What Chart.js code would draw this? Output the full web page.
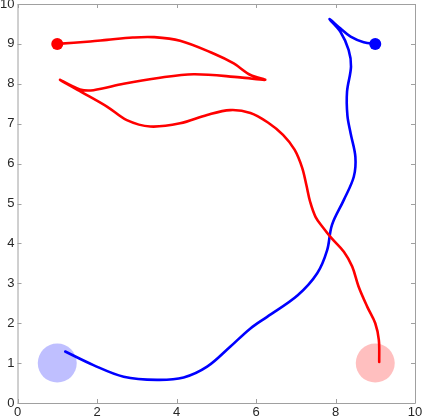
<!DOCTYPE html>
<html>
<head>
<meta charset="utf-8">
<script src="https://cdn.jsdelivr.net/npm/chart.js@4/dist/chart.umd.min.js"></script>
<style>
html,body{margin:0;padding:0;background:#fff;}
#wrap{width:423px;height:419px;position:relative;}
</style>
</head>
<body>
<div id="wrap"><canvas id="c" width="423" height="419"></canvas></div>
<script>
// Red trajectory
const redX = [1.0,1.83,2.25,2.9,3.42,4.09,4.93,5.44,5.86,6.23,5.6,4.43,3.5,2.67,1.91,1.57,1.07,1.6,2.25,2.75,3.34,4.09,4.77,5.35,5.86,6.3,6.68,6.97,7.16,7.27,7.36,7.5,7.7,7.9,8.21,8.42,8.58,8.8,9.0,9.09,9.1];
const redY = [9.0,9.06,9.1,9.16,9.17,9.08,8.76,8.51,8.22,8.1,8.16,8.24,8.14,8.0,7.84,7.86,8.1,7.8,7.43,7.09,6.93,7.01,7.22,7.34,7.27,7.03,6.72,6.35,5.9,5.45,5.05,4.66,4.38,4.13,3.79,3.42,2.92,2.41,2.0,1.58,1.03];
// Blue trajectory
const blueX = [9.03,8.71,8.38,8.12,7.85,8.12,8.33,8.39,8.29,8.3,8.38,8.5,8.46,8.21,7.91,7.79,7.54,7.05,6.28,5.86,5.35,4.77,4.18,3.51,2.67,1.91,1.2];
const blueY = [9.0,9.04,9.18,9.39,9.62,9.31,8.85,8.43,7.8,7.2,6.76,6.17,5.67,5.09,4.46,3.83,3.25,2.7,2.16,1.87,1.41,0.91,0.64,0.58,0.66,0.95,1.29];
// Start markers and goal circles
const startRed = [1, 9];
const startBlue = [9, 9];
const goalBlue = [1, 1];
const goalRed = [9, 1];
const xTicks = [0,2,4,6,8,10];
const yTicks = [0,1,2,3,4,5,6,7,8,9,10];

const toPts = (xs, ys) => xs.map((x, i) => ({x, y: ys[i]}));

const axisColor = '#a0a0a0';
const boxPlugin = {
  id: 'box',
  afterDraw(chart) {
    const {ctx, chartArea: a, scales: {x, y}} = chart;
    ctx.save();
    ctx.strokeStyle = axisColor;
    ctx.lineWidth = 1;
    ctx.beginPath();
    ctx.rect(a.left + 0.5, a.top + 0.5, a.right - a.left, a.bottom - a.top);
    ctx.stroke();
    ctx.beginPath();
    const L = 4;
    xTicks.forEach(v => {
      const px = Math.round(x.getPixelForValue(v)) + 0.5;
      ctx.moveTo(px, a.bottom); ctx.lineTo(px, a.bottom - L);
      ctx.moveTo(px, a.top); ctx.lineTo(px, a.top + L);
    });
    yTicks.forEach(v => {
      const py = Math.round(y.getPixelForValue(v)) + 0.5;
      ctx.moveTo(a.left, py); ctx.lineTo(a.left + L, py);
      ctx.moveTo(a.right, py); ctx.lineTo(a.right - L, py);
    });
    ctx.stroke();
    ctx.restore();
  }
};

const noPad = s => { s.paddingLeft = 0; s.paddingRight = 0; s.paddingTop = 0; s.paddingBottom = 0; };

new Chart(document.getElementById('c'), {
  type: 'scatter',
  data: {
    datasets: [
      {data: [{x: goalBlue[0], y: goalBlue[1]}], pointRadius: 19.5, pointBackgroundColor: 'rgba(0,0,255,0.25)', pointBorderWidth: 0, borderWidth: 0, order: 10},
      {data: [{x: goalRed[0], y: goalRed[1]}], pointRadius: 19.5, pointBackgroundColor: 'rgba(255,0,0,0.25)', pointBorderWidth: 0, borderWidth: 0, order: 10},
      {data: toPts(redX, redY), showLine: true, borderColor: '#ff0000', borderWidth: 2.6, pointRadius: 0, tension: 0.35, borderCapStyle: 'round', borderJoinStyle: 'round', order: 2},
      {data: toPts(blueX, blueY), showLine: true, borderColor: '#0000ff', borderWidth: 2.6, pointRadius: 0, tension: 0.35, borderCapStyle: 'round', borderJoinStyle: 'round', order: 2},
      {data: [{x: startRed[0], y: startRed[1]}], pointRadius: 6, pointBackgroundColor: '#ff0000', pointBorderWidth: 0, order: 1},
      {data: [{x: startBlue[0], y: startBlue[1]}], pointRadius: 6, pointBackgroundColor: '#0000ff', pointBorderWidth: 0, order: 1}
    ]
  },
  options: {
    responsive: false,
    animation: false,
    events: [],
    layout: {autoPadding: false, padding: {top: 4, right: 8, left: 0, bottom: 0}},
    plugins: {legend: {display: false}, tooltip: {enabled: false}},
    scales: {
      x: {
        type: 'linear', min: 0, max: 10,
        afterBuildTicks: s => { s.ticks = xTicks.map(v => ({value: v})); },
        afterFit: s => { s.height = 16; noPad(s); },
        grid: {display: false, drawTicks: false},
        border: {display: false},
        ticks: {color: '#262626', padding: 2, font: {family: 'Liberation Sans', size: 13}, maxRotation: 0}
      },
      y: {
        type: 'linear', min: 0, max: 10,
        afterBuildTicks: s => { s.ticks = yTicks.map(v => ({value: v})); },
        afterFit: s => { s.width = 17.5; noPad(s); },
        grid: {display: false, drawTicks: false},
        border: {display: false},
        ticks: {color: '#262626', padding: 3, font: {family: 'Liberation Sans', size: 13}}
      }
    }
  },
  plugins: [boxPlugin]
});
</script>
</body>
</html>
